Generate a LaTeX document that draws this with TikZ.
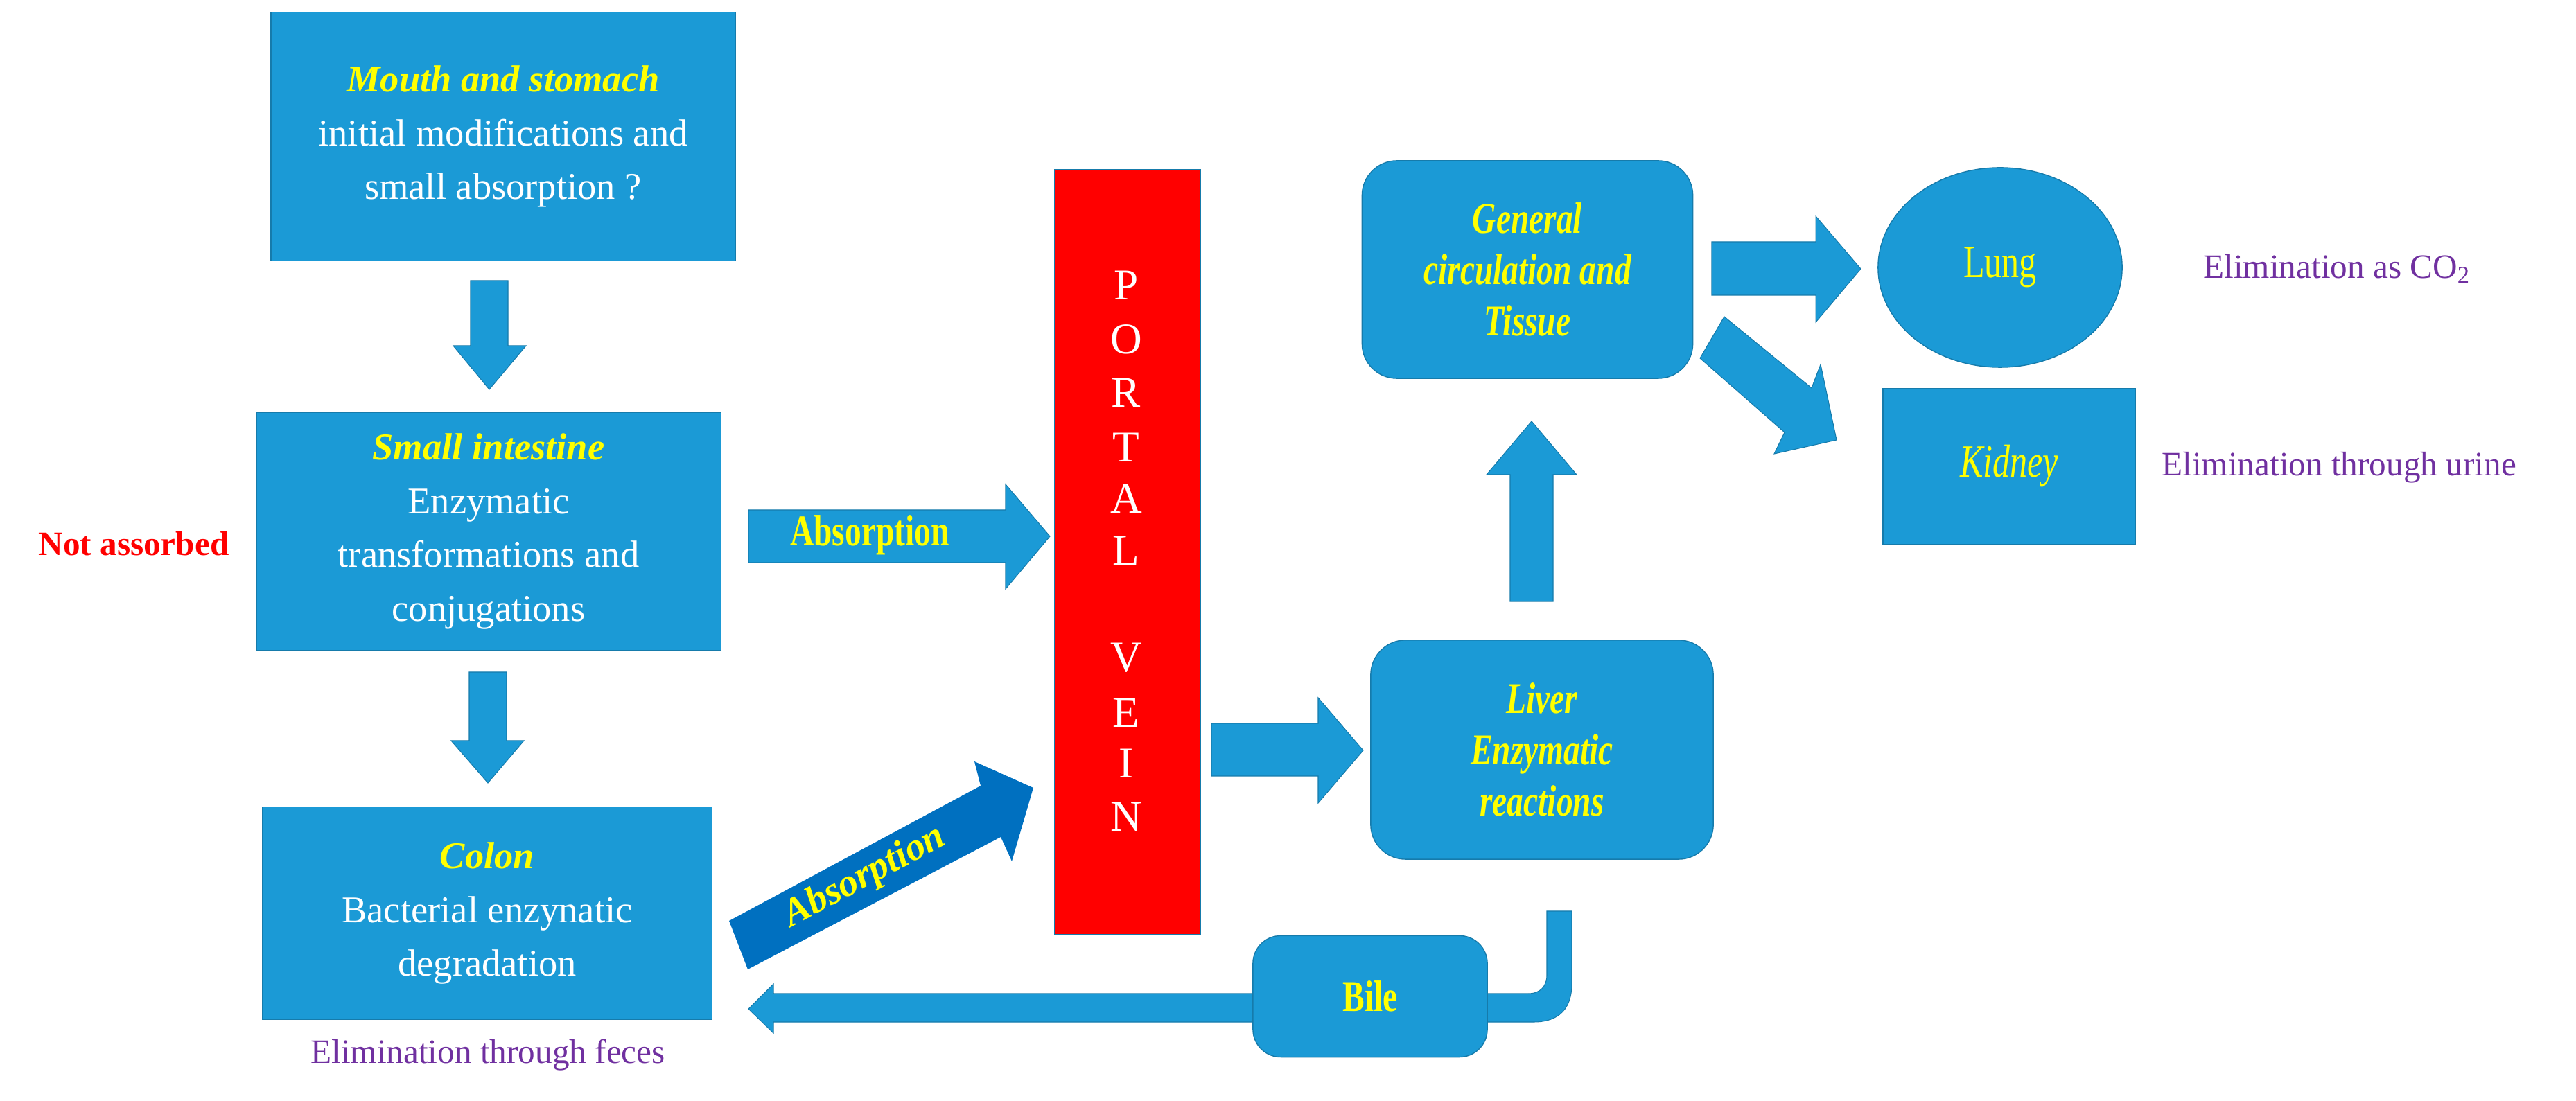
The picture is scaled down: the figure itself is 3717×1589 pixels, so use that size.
\documentclass[tikz,border=0pt]{standalone}
\usepackage{fontspec}
\setmainfont{Liberation Serif}
\newfontfamily\cond[FakeStretch=0.75]{Liberation Serif}
\usetikzlibrary{shapes.geometric}
\definecolor{bx}{HTML}{1B9AD6}
\definecolor{dk}{HTML}{0070C0}
\definecolor{yl}{HTML}{FFFF00}
\definecolor{pu}{HTML}{7030A0}
\begin{document}
\begin{tikzpicture}[x=0.01cm,y=-0.01cm,
  box/.style={fill=bx,draw=bx!80!black,line width=0.4pt,text=white,align=center,inner sep=0pt,
     font=\fontsize{15.5}{22}\selectfont},
  rbox/.style={box,rounded corners=0.5cm,text=yl,font=\cond\bfseries\itshape\fontsize{18}{21}\selectfont},
  arr/.style={fill=bx,draw=bx!80!black,line width=0.3pt},
  elim/.style={text=pu,font=\fontsize{14}{16}\selectfont},
  letter/.style={text=white,font=\fontsize{18}{19}\selectfont}]
\useasboundingbox (0,0) rectangle (3717,1589);
% left column boxes
\node[box,minimum width=6.70cm,minimum height=3.59cm] (mouth) at (726,197)
  {{\color{yl}\bfseries\itshape Mouth and stomach}\\initial modifications and\\small absorption ?};
\node[box,minimum width=6.70cm,minimum height=3.43cm] (small) at (705,767)
  {{\color{yl}\bfseries\itshape Small intestine}\\Enzymatic\\transformations and\\conjugations};
\node[box,minimum width=6.49cm,minimum height=3.07cm] (colon) at (703,1318)
  {{\color{yl}\bfseries\itshape Colon}\\Bacterial enzynatic\\degradation};
\node[text=red,font=\bfseries\fontsize{14}{16}\selectfont] (nota) at (193,785) {Not assorbed};
\node[elim] (feces) at (704,1522) {Elimination through feces};
% down arrows
\path[arr] (679,405)--(733,405)--(733,499)--(759,499)--(706,562)--(654,499)--(679,499)--cycle;
\path[arr] (677,970)--(731,970)--(731,1069)--(756,1069)--(704,1130)--(651,1069)--(677,1069)--cycle;
% horizontal absorption
\path[arr] (1080,736)--(1451,736)--(1451,699)--(1515,774)--(1451,850)--(1451,812)--(1080,812)--cycle;
\node[text=yl,font=\cond\bfseries\fontsize{18}{20}\selectfont] (abs1) at (1255,772) {Absorption};
% diagonal absorption
\path[fill=dk] (1052,1329)--(1415,1134)--(1406,1099)--(1491,1137)--(1460,1243)--(1444,1208)--(1079,1399)--cycle;
\node[text=yl,font=\bfseries\itshape\fontsize{16}{18}\selectfont,rotate=28] (abs2) at (1248,1266) {Absorption};
% portal vein
\node[fill=red,draw=bx!80!black,line width=0.4pt,minimum width=2.10cm,minimum height=11.03cm,inner sep=0pt] (portal) at (1627,796.5) {};
\foreach \l/\y in {P/412,O/490,R/567,T/646,A/720,L/795,V/949,E/1029,I/1102,N/1179}
  \node[letter] at (1625,\y) {\l};
% portal to liver arrow
\path[arr] (1748,1044)--(1902,1044)--(1902,1007)--(1967,1083)--(1902,1159)--(1902,1120)--(1748,1120)--cycle;
% liver
\node[rbox,minimum width=4.94cm,minimum height=3.16cm] (liver) at (2225,1082) {Liver\\Enzymatic\\reactions};
% up arrow
\path[arr] (2179,868)--(2179,685)--(2145,685)--(2210,608)--(2275,685)--(2241,685)--(2241,868)--cycle;
% general circulation
\node[rbox,minimum width=4.77cm,minimum height=3.14cm] (gen) at (2204,389) {General\\circulation and\\Tissue};
% to lung
\path[arr] (2470,349)--(2620,349)--(2620,312)--(2685,388)--(2620,465)--(2620,426)--(2470,426)--cycle;
\node[ellipse,fill=bx,draw=bx!80!black,minimum width=3.52cm,minimum height=2.88cm,inner sep=0pt,
  text=yl,font=\cond\fontsize{19}{20}\selectfont] (lung) at (2886,386) {Lung};
\node[elim,anchor=west] (co2) at (3167,388) {Elimination as CO\textsubscript{2}};
% to kidney
\path[arr] (2488,457)--(2614,560)--(2627,526)--(2650,635)--(2560,655)--(2575,624)--(2453,517)--cycle;
\node[box,minimum width=3.64cm,minimum height=2.25cm,text=yl,font=\cond\itshape\fontsize{19}{20}\selectfont] (kid) at (2899,673) {Kidney};
\node[elim,anchor=west] (urine) at (3107,675) {Elimination through urine};
% bile
\path[arr] (1812,1434)--(1116,1434)--(1116,1420)--(1080,1456)--(1116,1491)--(1116,1475)--(1812,1475)--cycle;
\path[arr] (2140,1434)--(2205,1434) .. controls (2222,1434) and (2232,1424) .. (2232,1407)
  --(2232,1315)--(2268,1315)--(2268,1420) .. controls (2268,1455) and (2250,1475) .. (2213,1475)--(2140,1475)--cycle;
\node[rbox,minimum width=3.38cm,minimum height=1.75cm,rounded corners=0.4cm,font=\cond\bfseries\fontsize{18}{20}\selectfont] (bile) at (1977,1438) {Bile};
\end{tikzpicture}
\end{document}
